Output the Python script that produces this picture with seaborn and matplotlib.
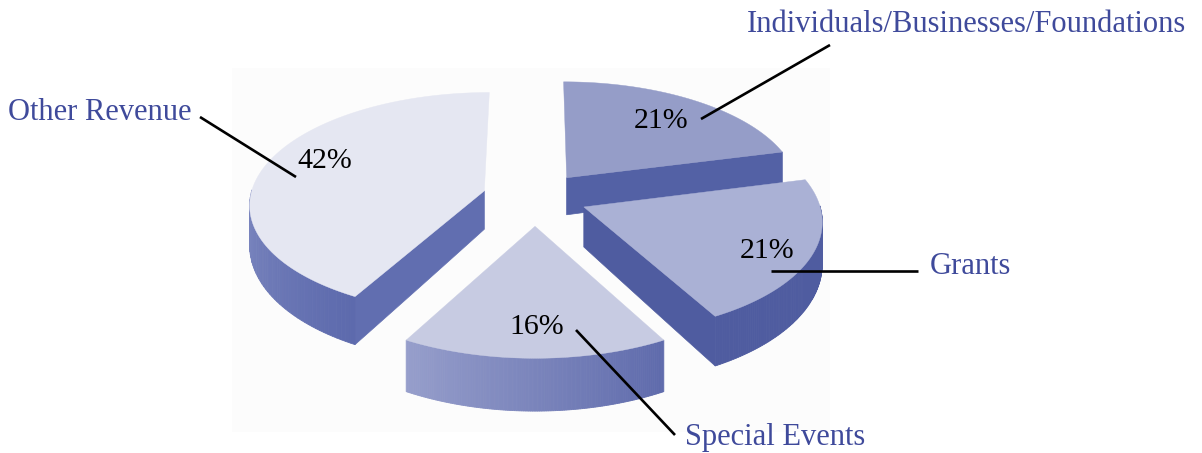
import numpy as np
import seaborn as sns
import matplotlib.pyplot as plt
from matplotlib.patches import Polygon, Rectangle

# clockwise from 12 o'clock
names = ['Individuals/Businesses/Foundations', 'Grants', 'Special Events', 'Other Revenue']
shares = [21, 21, 16, 42]
pct_labels = ['21%', '21%', '16%', '42%']

top_colors = ['#959dc8', '#aab1d5', '#c7cbe2', '#e5e7f2']
face_colors = ['#5361a5', '#4f5ca0', '#6570b0', '#616eb0']
side_left = ['#5361a5', '#4f5ca0', '#969ecb', '#7f8ac1']
side_right = ['#5361a5', '#4f5ca0', '#5f6bac', '#5d6aad']
explode = [0.225, 0.225, 0.258, 0.225]

# back to front
draw_order = [0, 3, 1, 2]

name_pos = [(966, 24), (970, 267), (775, 437), (100, 112)]
pct_pos = [(661, 121), (767, 251), (537, 327), (325, 161)]
leaders = [((830, 45), (701, 119)), ((918, 271), (771, 271)),
           ((675, 435), (576, 330)), ((200, 117), (296, 177))]

cx, cy = 535, 197
radius = 234
squash = 0.472
persp = 0.11


def project(x, y, depth=0.0):
    k = 1 / (1 + persp * y)
    px = cx + radius * x * k
    py = cy - radius * squash * y * k
    return px, py + depth * (39 - 11 * y)


def rim(ox, oy, angles):
    return ox + np.cos(angles), oy + np.sin(angles)


sns.set_theme(style='white')
plt.rcParams['font.family'] = ['Liberation Serif', 'DejaVu Serif']

fig, ax = plt.subplots(figsize=(12.02, 4.53), dpi=100)
fig.subplots_adjust(0, 0, 1, 1)
ax.set_xlim(0, 1202)
ax.set_ylim(453, 0)
ax.axis('off')
ax.add_patch(Rectangle((232, 68), 598, 364, color='#fcfcfc', lw=0, zorder=0))

edges = np.cumsum([0] + shares)
starts = np.deg2rad(90 - edges[:-1] * 3.6)
ends = np.deg2rad(90 - edges[1:] * 3.6)

z = 1
for i in draw_order:
    a0, a1 = starts[i], ends[i]
    mid = (a0 + a1) / 2
    ox, oy = explode[i] * np.cos(mid), explode[i] * np.sin(mid)

    # flat cut faces that look at the viewer
    for edge, normal in ((a0, a0 + np.pi / 2), (a1, a1 - np.pi / 2)):
        if np.sin(normal) < -0.01:
            t = np.linspace(0, 1, 40)
            fx = ox + t * np.cos(edge)
            fy = oy + t * np.sin(edge)
            top = np.column_stack(project(fx, fy))
            bot = np.column_stack(project(fx, fy, 1.0))
            ax.add_patch(Polygon(np.vstack([top, bot[::-1]]), color=face_colors[i], lw=0.5, zorder=z))
            z += 1

    # curved outer wall, strip by strip for the shading
    angles = np.linspace(a0, a1, 121)
    visible = angles[np.sin(angles) < 0.02]
    if len(visible) > 1:
        order = np.argsort(np.cos(visible))
        visible = visible[order]
        shades = sns.blend_palette([side_left[i], side_right[i]], len(visible) - 1)
        for j in range(len(visible) - 1):
            pair = visible[j:j + 2]
            fx, fy = rim(ox, oy, pair)
            top = np.column_stack(project(fx, fy))
            bot = np.column_stack(project(fx, fy, 1.0))
            ax.add_patch(Polygon(np.vstack([top, bot[::-1]]), color=shades[j], lw=0.6, zorder=z))
        z += 1

    # top of the slice
    fx, fy = rim(ox, oy, angles)
    fx = np.append(fx, ox)
    fy = np.append(fy, oy)
    ax.add_patch(Polygon(np.column_stack(project(fx, fy)), color=top_colors[i], lw=0.3, zorder=z))
    z += 1

for i in range(len(names)):
    (x0, y0), (x1, y1) = leaders[i]
    ax.plot([x0, x1], [y0, y1], color='black', lw=1.9, zorder=z, solid_capstyle='butt')
    ax.text(*name_pos[i], names[i], color='#3f4a9b', fontsize=22, ha='center', va='center', zorder=z)
    ax.text(*pct_pos[i], pct_labels[i], color='black', fontsize=21.5, ha='center', va='center', zorder=z)

fig.savefig('out.png', dpi=100)
